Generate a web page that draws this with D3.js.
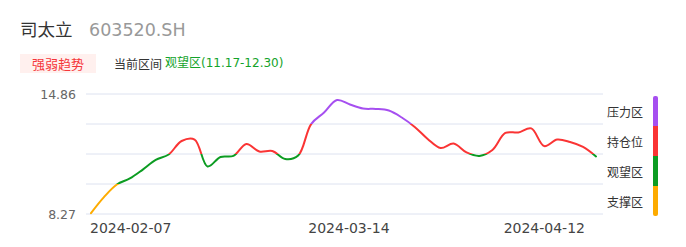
<!DOCTYPE html>
<html><head><meta charset="utf-8">
<script src="https://cdn.jsdelivr.net/npm/d3@7/dist/d3.min.js"></script>
<style>
html,body{margin:0;padding:0;background:#fff;}
svg{display:block;font-family:"DejaVu Sans","Noto Sans CJK SC",sans-serif;}
</style></head>
<body><svg id="c" width="686" height="247"></svg>
<script>
const stockName = "司太立";
const stockCode = "603520.SH";
const badgeText = "强弱趋势";
const rangeLabel = "当前区间";
const rangeValue = "观望区(11.17-12.30)";
const dates = ["2024-02-07","2024-02-08","2024-02-19","2024-02-20","2024-02-21","2024-02-22","2024-02-23","2024-02-26","2024-02-27","2024-02-28","2024-02-29","2024-03-01","2024-03-04","2024-03-05","2024-03-06","2024-03-07","2024-03-08","2024-03-11","2024-03-12","2024-03-13","2024-03-14","2024-03-15","2024-03-18","2024-03-19","2024-03-20","2024-03-21","2024-03-22","2024-03-25","2024-03-26","2024-03-27","2024-03-28","2024-03-29","2024-04-01","2024-04-02","2024-04-03","2024-04-08","2024-04-09","2024-04-10","2024-04-11","2024-04-12"];
const values = [8.32,9.20,9.89,10.22,10.71,11.24,11.54,12.28,12.36,10.88,11.40,11.46,12.11,11.70,11.73,11.29,11.48,13.21,13.84,14.53,14.28,14.06,14.04,13.95,13.57,13.05,12.39,11.89,12.14,11.65,11.46,11.78,12.72,12.75,12.97,12.00,12.36,12.22,11.95,11.43];
const xTickLabels = ["2024-02-07","2024-03-14","2024-04-12"];
const yMin = 8.27, yMax = 14.86;
const yTickLabels = ["8.27","14.86"];
const zoneNames = ["支撑区","观望区","持仓位","压力区"];
const zoneColors = ["#fdab00","#0c9c22","#fa3434","#a64ff0"];

const svg = d3.select("#c");
const x = d3.scalePoint().domain(dates).range([91, 596]);
const y = d3.scaleLinear().domain([yMin, yMax]).range([214, 94]);
const bounds = d3.range(5).map(i => yMin + (yMax - yMin) * i / 4);

// header
const hdr = svg.append("g");
hdr.append("text").attr("x", 20).attr("y", 36).attr("font-size", 17.5).attr("fill", "#333")
  .attr("font-family", "'Noto Sans CJK SC'").text(stockName);
hdr.append("text").attr("x", 89).attr("y", 36).attr("font-size", 17.5).attr("fill", "#999").text(stockCode);
hdr.append("rect").attr("x", 20).attr("y", 54).attr("width", 76).attr("height", 19).attr("fill", "#fff0ee");
hdr.append("text").attr("x", 58).attr("y", 63.5).attr("text-anchor", "middle").attr("dominant-baseline", "central")
  .attr("font-size", 13).attr("fill", "#f5363a").attr("font-family", "'Noto Sans CJK SC'").text(badgeText);
hdr.append("text").attr("x", 114).attr("y", 63).attr("dominant-baseline", "central")
  .attr("font-size", 12).attr("fill", "#333").attr("font-family", "'Noto Sans CJK SC'").text(rangeLabel);
hdr.append("text").attr("x", 165).attr("y", 63).attr("dominant-baseline", "central")
  .attr("font-size", 12).attr("fill", "#13a32a").text(rangeValue);

// grid
svg.append("g").selectAll("line").data(bounds).join("line")
  .attr("x1", 86).attr("x2", 603).attr("y1", d => y(d)).attr("y2", d => y(d))
  .attr("stroke", "#dde2f0").attr("stroke-width", 1);

// y labels
svg.append("g").selectAll("text").data([yMin, yMax]).join("text")
  .attr("x", 76).attr("y", d => y(d)).attr("text-anchor", "end").attr("dominant-baseline", "central")
  .attr("font-size", 12.5).attr("fill", "#666").text((d, i) => yTickLabels[i]);

// x labels
const anchors = ["start", "middle", "end"];
svg.append("g").selectAll("text").data(xTickLabels).join("text")
  .attr("x", d => x(d)).attr("dx", (d, i) => i === 2 ? -11 : -1).attr("y", 233)
  .attr("text-anchor", (d, i) => anchors[i]).attr("font-size", 14).attr("fill", "#444").text(d => d);

// gradient by zone
const defs = svg.append("defs");
const grad = defs.append("linearGradient").attr("id", "zg").attr("gradientUnits", "userSpaceOnUse")
  .attr("x1", 0).attr("x2", 0).attr("y1", y(yMin)).attr("y2", y(yMax));
zoneColors.forEach((c, i) => {
  grad.append("stop").attr("offset", i / 4).attr("stop-color", c);
  grad.append("stop").attr("offset", (i + 1) / 4).attr("stop-color", c);
});

const line = d3.line().x((d, i) => x(dates[i])).y(d => y(d)).curve(d3.curveCatmullRom.alpha(0.5));
svg.append("path").datum(values).attr("d", line).attr("fill", "none")
  .attr("stroke", "url(#zg)").attr("stroke-width", 2).attr("stroke-linejoin", "round").attr("stroke-linecap", "round");

// legend
const bandH = y(bounds[0]) - y(bounds[1]);
const legTop = y(yMax) + 2;
defs.append("clipPath").attr("id", "legclip").append("rect")
  .attr("x", 653).attr("y", legTop).attr("width", 5).attr("height", bandH * 4).attr("rx", 2);
const leg = svg.append("g");
leg.append("g").attr("clip-path", "url(#legclip)").selectAll("rect").data(zoneColors).join("rect")
  .attr("x", 653).attr("width", 5)
  .attr("y", (d, i) => y(bounds[i + 1]) + 2).attr("height", bandH).attr("fill", d => d);
leg.selectAll("text").data(zoneNames).join("text")
  .attr("x", 607).attr("y", (d, i) => y(bounds[i + 1]) + 2 + bandH / 2)
  .attr("dominant-baseline", "central").attr("font-size", 12).attr("fill", "#333")
  .attr("font-family", "'Noto Sans CJK SC'").text(d => d);
</script></body></html>
